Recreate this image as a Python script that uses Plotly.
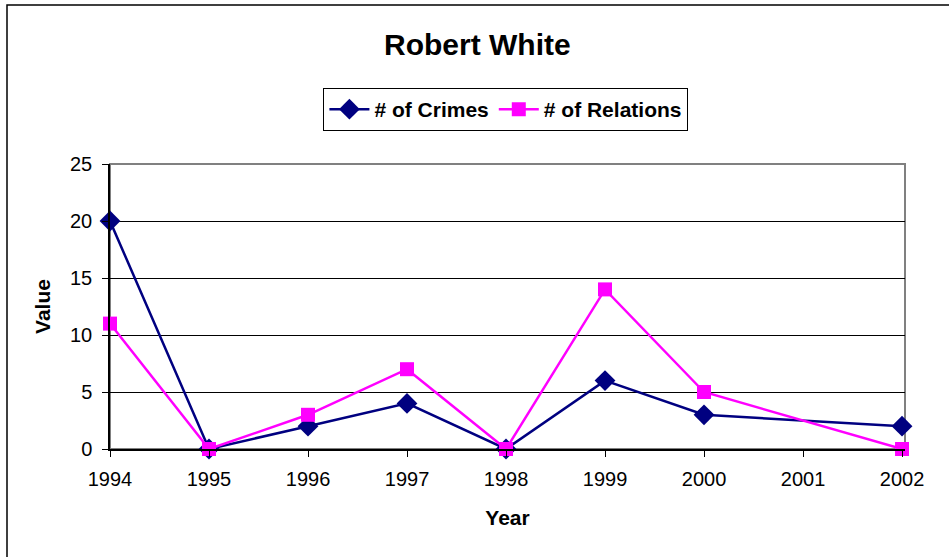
import plotly.graph_objects as go

years = [1994, 1995, 1996, 1997, 1998, 1999, 2000, 2002]
crimes = [20, 0, 2, 4, 0, 6, 3, 2]
relations = [11, 0, 3, 7, 0, 14, 5, 0]
tick_years = [1994, 1995, 1996, 1997, 1998, 1999, 2000, 2001, 2002]

font_family = "Liberation Sans, Arial, sans-serif"

fig = go.Figure()
fig.add_trace(go.Scatter(
    x=years, y=crimes, name="<b># of Crimes</b>", mode="lines+markers",
    line=dict(color="#000080", width=2.5),
    marker=dict(symbol="diamond", size=16, color="#000080"),
    cliponaxis=False,
))
fig.add_trace(go.Scatter(
    x=years, y=relations, name="<b># of Relations</b>", mode="lines+markers",
    line=dict(color="#FF00FF", width=2.5),
    marker=dict(symbol="square", size=14, color="#FF00FF"),
    cliponaxis=False,
))

fig.update_layout(
    width=949, height=557,
    margin=dict(l=110, r=44, t=164, b=108),
    paper_bgcolor="white", plot_bgcolor="white",
    font=dict(family=font_family, size=20, color="black"),
    title=dict(text="<b>Robert White</b>", x=0.503, xanchor="center",
               y=1 - 44 / 557, yanchor="middle",
               font=dict(size=30, color="black")),
    showlegend=True,
    legend=dict(orientation="h", x=0.498, xanchor="center",
                y=(449 - 88) / 285, yanchor="top",
                bordercolor="black", borderwidth=1, bgcolor="white",
                font=dict(size=21, color="black"),
                itemwidth=40, tracegroupgap=0),
    xaxis=dict(range=[1994, 2002.03], tickvals=tick_years,
               ticktext=[str(t) for t in tick_years],
               showgrid=False, zeroline=False,
               showline=True, linecolor="black", linewidth=1.5,
               ticks="outside", ticklen=6, tickcolor="black",
               tickfont=dict(size=20), ticklabelstandoff=5,
               title=dict(text="<b>Year</b>", font=dict(size=21), standoff=22)),
    yaxis=dict(range=[0, 25], tickvals=[0, 5, 10, 15, 20, 25],
               showgrid=True, gridcolor="black", gridwidth=1,
               zeroline=False,
               showline=True, linecolor="black", linewidth=1.5,
               ticks="outside", ticklen=6, tickcolor="black",
               tickfont=dict(size=20), ticklabelstandoff=6,
               title=dict(text="<b>Value</b>", font=dict(size=21), standoff=14)),
    shapes=[
        dict(type="rect", xref="paper", yref="paper", x0=0, x1=1, y0=0, y1=1,
             line=dict(color="#808080", width=2), layer="below"),
        dict(type="rect", xref="paper", yref="paper",
             x0=(7 - 110) / 795, x1=(960 - 110) / 795,
             y0=(449 - 570) / 285, y1=(449 - 5) / 285,
             line=dict(color="black", width=1.5), layer="below"),
    ],
)

fig.write_html("out.html",
               config={"displayModeBar": False},
               post_script="document.body.style.margin='0';document.body.style.padding='0';")
